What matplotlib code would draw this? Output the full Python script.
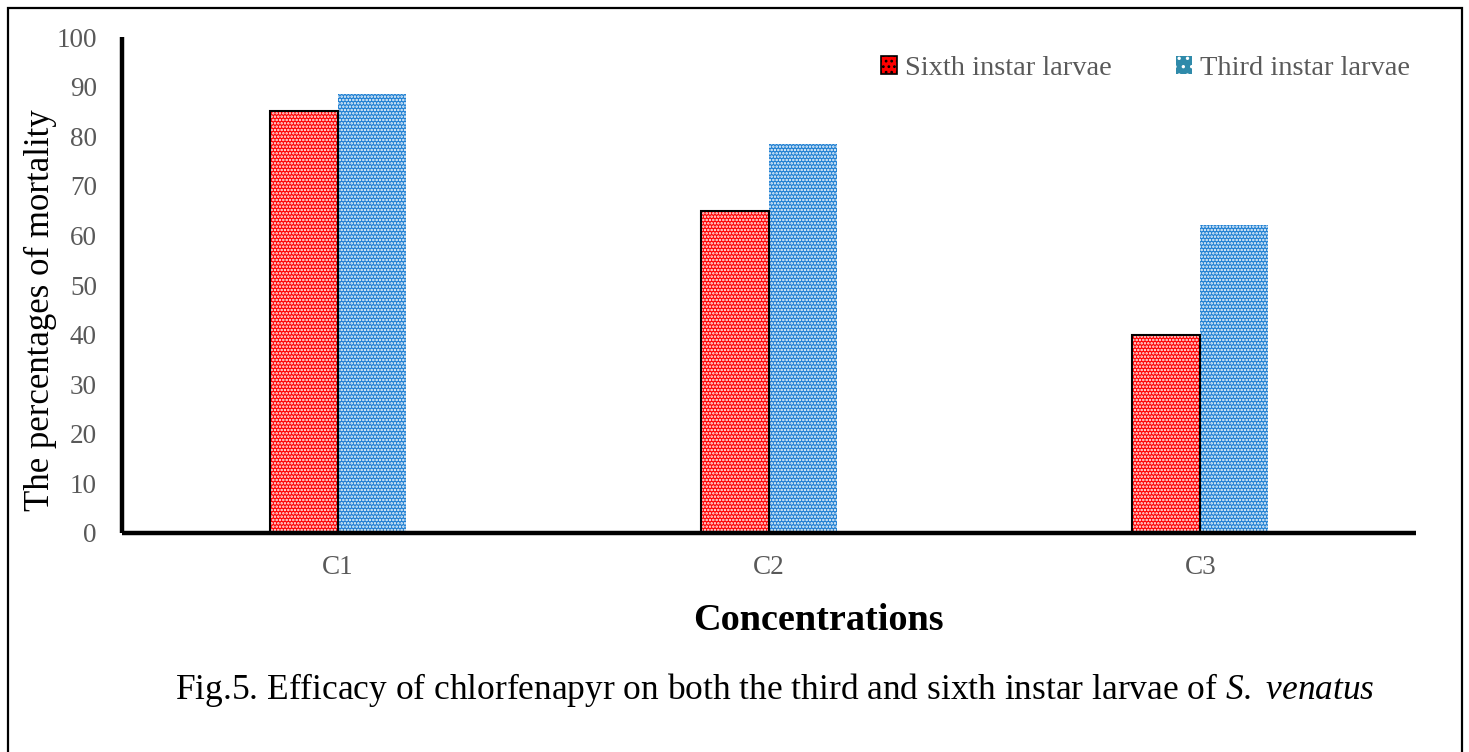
import numpy as np
import matplotlib.pyplot as plt
from matplotlib.patches import Patch, Rectangle

plt.rcParams['font.family'] = ['Liberation Serif', 'DejaVu Serif']
plt.rcParams['mathtext.fontset'] = 'custom'
plt.rcParams['mathtext.rm'] = 'Liberation Serif'
plt.rcParams['mathtext.it'] = 'Liberation Serif:italic'
plt.rcParams['hatch.linewidth'] = 1.2

categories = ['C1', 'C2', 'C3']
sixth = [85, 65, 40]
third = [88.5, 78.5, 62]
labels = ['Sixth instar larvae', 'Third instar larvae']

red = '#ff0000'
blue = '#1e7fd2'
grey = '#595959'

fig = plt.figure(figsize=(14.69, 7.52), dpi=100)
ax = fig.add_axes([122/1469, 1-533/752, (1416-122)/1469, (533-37)/752])

x = np.arange(len(categories))
w = 0.158
# fill with white dotted hatch, then outline separately
ax.bar(x - w/2, sixth, w, color=red, edgecolor='white', hatch='.....', linewidth=0, zorder=2)
ax.bar(x - w/2, sixth, w, fill=False, edgecolor='black', linewidth=1.5, zorder=3)
ax.bar(x + w/2, third, w, color=blue, edgecolor='white', hatch='.....', linewidth=0, zorder=2)

ax.set_xlim(-0.5, 2.5)
ax.set_ylim(0, 100)
ax.set_yticks(range(0, 101, 10))
ax.set_xticks(x)
ax.set_xticklabels(categories)
ax.tick_params(axis='both', length=0, labelsize=19.5, labelcolor=grey)
ax.tick_params(axis='y', pad=18)
ax.tick_params(axis='x', pad=16)

for s in ['top', 'right']:
    ax.spines[s].set_visible(False)
for s in ['left', 'bottom']:
    ax.spines[s].set_linewidth(3.2)
    ax.spines[s].set_capstyle('butt')

ax.set_ylabel('The percentages of mortality', fontsize=25)
ax.yaxis.set_label_coords(-0.05, 0.45)

handles = [Patch(facecolor=red, edgecolor='black', hatch='...', linewidth=1.2),
           Patch(facecolor='#2f8aaa', edgecolor='white', hatch='..', linewidth=0)]
leg = ax.legend(handles, labels, ncol=2, frameon=False, fontsize=20.5,
                loc='upper right', bbox_to_anchor=(1.0155, 1.014),
                handlelength=0.55, handleheight=0.6, handletextpad=0.3, columnspacing=2.25)
for t in leg.get_texts():
    t.set_color(grey)

fig.text(818/1469, 1-620/752, 'Concentrations', ha='center', va='center',
         fontsize=27.5, fontweight='bold')
fig.text(175/1469, 1-690/752, 'Fig.5. Efficacy of chlorfenapyr on both the third and sixth instar larvae of $\\it{S.}$ $\\it{venatus}$',
         ha='left', va='center', fontsize=25.5)

fig.patches.append(Rectangle((8/1469, -0.02), (1462-8)/1469, 1.02-8/752,
                             transform=fig.transFigure, fill=False,
                             edgecolor='black', linewidth=1.6))

fig.savefig('out.png', dpi=100)
